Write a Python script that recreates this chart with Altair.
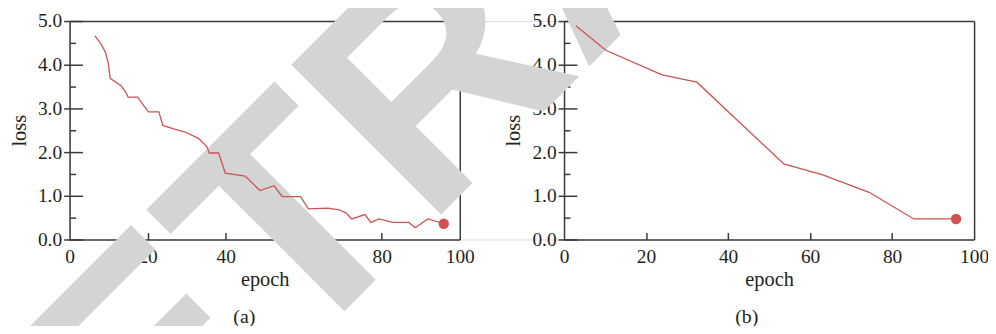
import altair as alt
import pandas as pd

# ---- data ----
epoch_a = [6.5, 8.1, 9.2, 9.9, 10.4, 13.2, 14.4, 15.0, 17.4, 20.2, 22.9, 23.9, 27.1,
           29.7, 33.1, 35.2, 35.8, 38.2, 39.9, 45.0, 48.8, 52.4, 54.5, 59.2, 61.2,
           66.2, 69.1, 70.8, 72.3, 75.7, 77.2, 79.3, 82.7, 86.9, 88.6, 91.8, 95.9]
loss_a = [4.66, 4.47, 4.28, 4.05, 3.69, 3.52, 3.37, 3.26, 3.26, 2.92, 2.92, 2.61, 2.52,
          2.46, 2.31, 2.12, 1.98, 1.98, 1.52, 1.45, 1.12, 1.23, 0.98, 0.98, 0.70,
          0.72, 0.68, 0.61, 0.47, 0.57, 0.39, 0.47, 0.39, 0.39, 0.27, 0.47, 0.36]
epoch_b = [2.9, 10.2, 23.9, 32.4, 53.6, 63.1, 74.4, 85.3, 95.6]
loss_b = [4.89, 4.33, 3.77, 3.60, 1.73, 1.48, 1.08, 0.47, 0.47]

x_ticks = [0, 20, 40, 60, 80, 100]
x_inner_ticks = [20, 40, 60, 80]
y_ticks = [0, 1, 2, 3, 4, 5]
y_minor = [0.5, 1.5, 2.5, 3.5, 4.5]
captions = ["(a)", "(b)"]
x_title = "epoch"
y_title = "loss"
watermark = ["RETRACTED"]

# ---- styling ----
SERIF = "Liberation Serif"
TX = "#231f20"
AX = "#3a3a3a"
RED = "#d05252"
W = 911
H = 220
RANGE_A = [0, 393]
RANGE_B = [498, 911]

df_a = pd.DataFrame({"epoch": epoch_a, "loss": loss_a})
df_b = pd.DataFrame({"epoch": epoch_b, "loss": loss_b})


def xs(rng):
    return alt.Scale(domain=[0, 100], range=rng, nice=False, zero=False)


def ys():
    return alt.Scale(domain=[0, 5], nice=False, zero=False)


common = dict(grid=False, tickColor=AX, tickWidth=1.5, domainColor=AX, domainWidth=1.5,
              labelFont=SERIF, labelFontSize=19.5, labelColor=TX,
              titleFont=SERIF, titleFontSize=20.5, titleFontWeight="normal", titleColor=TX)


def panel(df, rng, left_off, right_border_off):
    inner_right = -(W - rng[0])
    layers = []
    # line + main axes
    layers.append(alt.Chart(df).mark_line(color=RED, strokeWidth=1.3).encode(
        x=alt.X("epoch:Q", scale=xs(rng), axis=alt.Axis(
            orient="bottom", values=x_ticks, format="d", ticks=False, tickSize=0,
            labelPadding=8, labelFlush=False, labelOverlap=False,
            title=x_title, titlePadding=4, **common)),
        y=alt.Y("loss:Q", scale=ys(), axis=alt.Axis(
            orient="left", offset=left_off, values=y_ticks, format=".1f", tickSize=6,
            labelPadding=2, labelFlush=False, labelOverlap=False,
            title=y_title, titlePadding=8, **common)),
    ))
    # inward ticks
    layers.append(alt.Chart(df).mark_point(opacity=0).encode(
        x=alt.X("epoch:Q", scale=xs(rng), axis=alt.Axis(
            orient="top", offset=-H, values=x_inner_ticks, labels=False, domain=False,
            tickSize=7, title=None, **common)),
        y=alt.Y("loss:Q", scale=ys(), axis=alt.Axis(
            orient="right", offset=inner_right, values=y_ticks, labels=False,
            domain=False, tickSize=13, title=None, **common)),
    ))
    # minor inward ticks
    layers.append(alt.Chart(df).mark_point(opacity=0).encode(
        x=alt.X("epoch:Q", scale=xs(rng), axis=None),
        y=alt.Y("loss:Q", scale=ys(), axis=alt.Axis(
            orient="right", offset=inner_right, values=y_minor, labels=False,
            domain=False, tickSize=6, title=None, **common)),
    ))
    # top and right frame
    layers.append(alt.Chart(df).mark_point(opacity=0).encode(
        x=alt.X("epoch:Q", scale=xs(rng), axis=alt.Axis(
            orient="top", offset=0, labels=False, ticks=False, domain=True,
            title=None, **common)),
        y=alt.Y("loss:Q", scale=ys(), axis=alt.Axis(
            orient="right", offset=right_border_off, labels=False, ticks=False,
            domain=True, title=None, **common)),
    ))
    # end dot
    layers.append(alt.Chart(df.tail(1)).mark_circle(size=110, color=RED, opacity=1).encode(
        x=alt.X("epoch:Q", scale=xs(rng), axis=None),
        y=alt.Y("loss:Q", scale=ys(), axis=None),
    ))
    return layers


wm = alt.Chart(pd.DataFrame({"t": watermark})).mark_text(
    font="Liberation Sans", fontWeight="bold", fontSize=310,
    angle=315, color="#d4d4d4", align="center", baseline="alphabetic"
).encode(x=alt.value(597), y=alt.value(-28), text="t:N")

cap_a = alt.Chart(pd.DataFrame({"c": [captions[0]]})).mark_text(
    font=SERIF, fontSize=20, color=TX, baseline="alphabetic", align="center"
).encode(x=alt.value(176), y=alt.value(304), text="c:N")
cap_b = alt.Chart(pd.DataFrame({"c": [captions[1]]})).mark_text(
    font=SERIF, fontSize=20, color=TX, baseline="alphabetic", align="center"
).encode(x=alt.value(682), y=alt.value(304), text="c:N")

layers = [wm]
layers += panel(df_a, RANGE_A, 0, -(W - RANGE_A[1]))
layers += panel(df_b, RANGE_B, -RANGE_B[0], 0)
layers += [cap_a, cap_b]

chart = alt.layer(*layers).resolve_scale(
    x="independent", y="independent"
).properties(
    width=W, height=H,
    autosize=alt.AutoSizeParams(type="none"),
    padding={"left": 62, "top": 12, "right": 14, "bottom": 86},
).configure_view(
    stroke="transparent"
).configure_axis(
    labelFont=SERIF, titleFont=SERIF, titleFontWeight="normal",
    labelColor=TX, titleColor=TX
).configure(font=SERIF)

chart.save("out.html", embed_options={"renderer": "svg", "actions": False})
